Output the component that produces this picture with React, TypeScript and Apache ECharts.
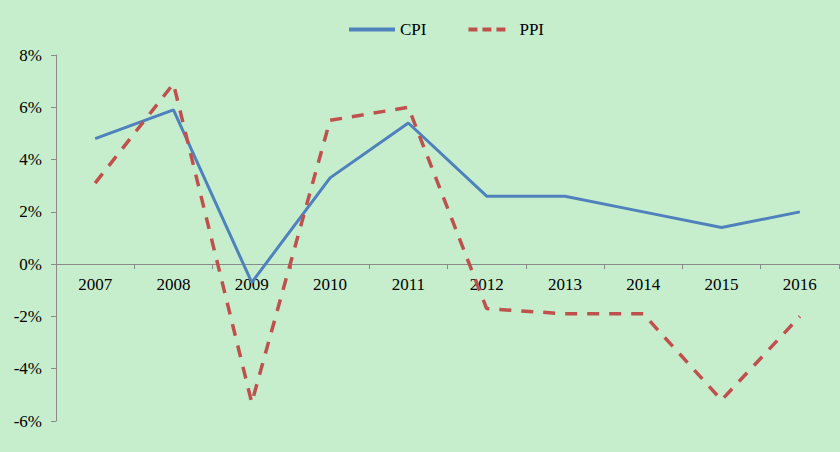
import React, { useEffect, useRef } from "react";
import * as echarts from "echarts";

const years = ["2007", "2008", "2009", "2010", "2011", "2012", "2013", "2014", "2015", "2016"];
const cpi = [4.8, 5.9, -0.7, 3.3, 5.4, 2.6, 2.6, 2.0, 1.4, 2.0];
const ppi = [3.1, 6.9, -5.3, 5.5, 6.0, -1.7, -1.9, -1.9, -5.2, -2.0];
const yMin = -6;
const yMax = 8;

const FONT = "'Liberation Serif', 'Times New Roman', serif";
const GRID_TOP = 55;
const GRID_BOTTOM = 31;
const H = 452;

export default function App() {
  const ref = useRef<HTMLDivElement>(null);
  useEffect(() => {
    document.body.style.margin = "0";
    const chart = echarts.init(ref.current!, undefined, { renderer: "svg" });
    const plotH = H - GRID_TOP - GRID_BOTTOM;
    const zeroOffset = -(plotH * (0 - yMin)) / (yMax - yMin);
    chart.setOption({
      animation: false,
      backgroundColor: "#c6eecd",
      textStyle: { fontFamily: FONT },
      legend: {
        top: 16,
        left: 342,
        itemWidth: 46,
        itemHeight: 14,
        itemGap: 40,
        itemStyle: { opacity: 0 },
        lineStyle: { width: 4 },
        textStyle: { fontFamily: FONT, fontSize: 17, color: "#000" },
        data: [
          { name: "CPI" },
          { name: "PPI", lineStyle: { width: 4, type: [9, 5, 9, 5, 9, 40] } },
        ],
      },
      grid: { left: 56, right: 1, top: GRID_TOP, bottom: GRID_BOTTOM, containLabel: false },
      xAxis: {
        type: "category",
        data: years,
        boundaryGap: true,
        offset: zeroOffset,
        axisLine: { onZero: false, lineStyle: { color: "#8a8a8a", width: 1 } },
        axisTick: { show: true, length: 5, alignWithLabel: false, lineStyle: { color: "#8a8a8a" } },
        axisLabel: { color: "#000", fontSize: 17, fontFamily: FONT, margin: 12 },
        splitLine: { show: false },
      },
      yAxis: {
        type: "value",
        min: yMin,
        max: yMax,
        interval: 2,
        axisLine: { show: true, lineStyle: { color: "#8a8a8a", width: 1 } },
        axisTick: { show: true, length: 5, lineStyle: { color: "#8a8a8a" } },
        axisLabel: { color: "#000", fontSize: 17, fontFamily: FONT, formatter: "{value}%", margin: 14 },
        splitLine: { show: false },
      },
      series: [
        {
          name: "CPI",
          type: "line",
          data: cpi,
          symbol: "none",
          lineStyle: { color: "#4f81bd", width: 3 },
          itemStyle: { color: "#4f81bd" },
        },
        {
          name: "PPI",
          type: "line",
          data: ppi,
          symbol: "none",
          lineStyle: { color: "#c0504d", width: 3.5, type: [12, 10] },
          itemStyle: { color: "#c0504d" },
        },
      ],
    });
    return () => chart.dispose();
  }, []);
  return <div ref={ref} style={{ width: 840, height: 452 }} />;
}
